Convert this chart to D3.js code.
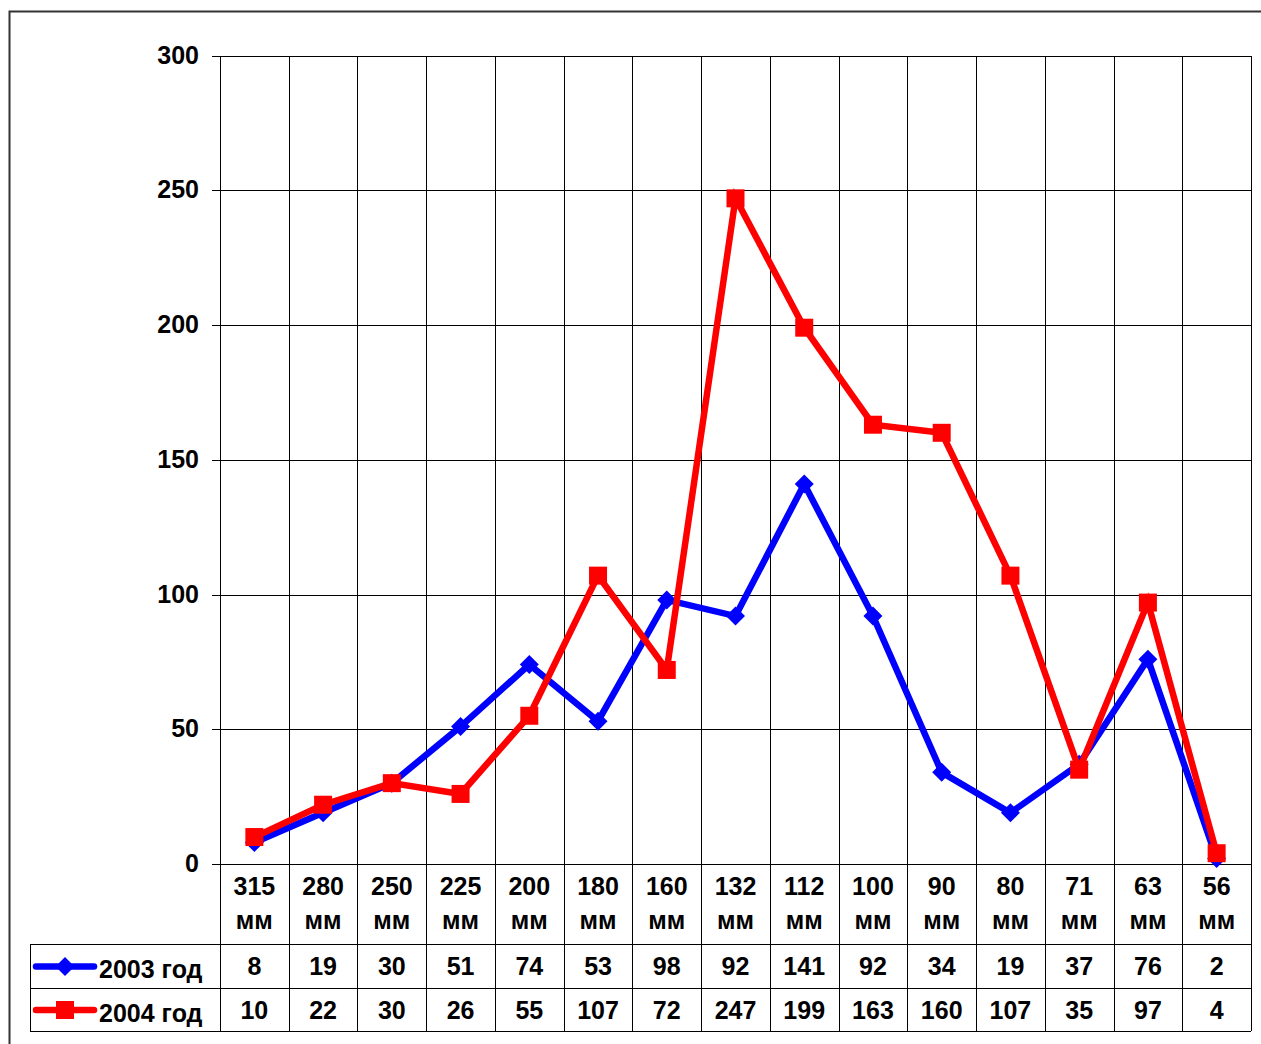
<!DOCTYPE html>
<html>
<head>
<meta charset="utf-8">
<script src="https://cdn.jsdelivr.net/npm/d3@7"></script>
<style>
  body { margin: 0; background: #fff; }
  text { font-family: "Liberation Sans", Arial, sans-serif; font-weight: bold; fill: #000; }
</style>
</head>
<body>
<div class="chart"></div>
<script>
const categories = ["315", "280", "250", "225", "200", "180", "160", "132", "112", "100", "90", "80", "71", "63", "56"];
const unit = "мм";
const series2003 = [8, 19, 30, 51, 74, 53, 98, 92, 141, 92, 34, 19, 37, 76, 2];
const series2004 = [10, 22, 30, 26, 55, 107, 72, 247, 199, 163, 160, 107, 35, 97, 4];
const seriesNames = ["2003 год", "2004 год"];
const yTicks = [0, 50, 100, 150, 200, 250, 300];

function renderChart() {
    const W = 1261, H = 1044;
    const left = 220, right = 1251, top = 55.5, bottom = 864;
    const row1 = 944, row2 = 988, row3 = 1031, tableLeft = 30;
    const fontSize = "25px";

    const svg = d3.select(".chart").append("svg")
        .attr("width", W)
        .attr("height", H);

    // outer frame
    svg.append("rect")
        .attr("x", 9.5).attr("y", 11.5)
        .attr("width", 1300).attr("height", 1100)
        .attr("fill", "none")
        .attr("stroke", "#333")
        .attr("stroke-width", 2);

    const xScale = d3.scaleBand()
        .domain(categories)
        .range([left, right]);

    const yScale = d3.scaleLinear()
        .domain([0, 300])
        .range([bottom, top]);

    const grid = svg.append("g")
        .attr("stroke", "#000")
        .attr("stroke-width", 1)
        .attr("shape-rendering", "crispEdges");

    // horizontal grid lines + ticks
    grid.selectAll(".hgrid")
        .data(yTicks)
        .enter()
        .append("line")
        .attr("x1", left - 8)
        .attr("x2", right)
        .attr("y1", d => Math.round(yScale(d)) + 0.5)
        .attr("y2", d => Math.round(yScale(d)) + 0.5);

    // vertical lines through plot and table
    const edges = categories.map(c => xScale(c)).concat([right]);
    grid.selectAll(".vgrid")
        .data(edges)
        .enter()
        .append("line")
        .attr("x1", d => Math.round(d) + 0.5).attr("x2", d => Math.round(d) + 0.5)
        .attr("y1", top)
        .attr("y2", row3);

    // table rows
    [row1, row2, row3].forEach(y => {
        grid.append("line")
            .attr("x1", tableLeft).attr("x2", right)
            .attr("y1", y + 0.5).attr("y2", y + 0.5);
    });
    grid.append("line")
        .attr("x1", tableLeft + 0.5).attr("x2", tableLeft + 0.5)
        .attr("y1", row1).attr("y2", row3);

    // y labels
    svg.append("g").selectAll("text")
        .data(yTicks)
        .enter()
        .append("text")
        .attr("x", 199)
        .attr("y", d => yScale(d) + 8)
        .attr("text-anchor", "end")
        .style("font-size", fontSize)
        .text(d => d);

    // category labels
    const catG = svg.append("g").selectAll("g")
        .data(categories)
        .enter()
        .append("g")
        .attr("transform", d => `translate(${xScale(d) + xScale.bandwidth() / 2},0)`);
    catG.append("text")
        .attr("y", 895)
        .attr("text-anchor", "middle")
        .style("font-size", fontSize)
        .text(d => d);
    catG.append("text")
        .attr("y", 929)
        .attr("text-anchor", "middle")
        .style("font-size", fontSize)
        .text(unit);

    const x = (d, i) => xScale(categories[i]) + xScale.bandwidth() / 2;
    const line = d3.line()
        .x(x)
        .y(d => yScale(d));

    const colors = ["#0000ff", "#ff0000"];
    const allSeries = [series2003, series2004];
    const diamond = "M0,-9.5L9.5,0L0,9.5L-9.5,0Z";
    const square = "M-9,-9H9V9H-9Z";
    const markers = [diamond, square];

    allSeries.forEach((s, k) => {
        svg.append("path")
            .datum(s)
            .attr("fill", "none")
            .attr("stroke", colors[k])
            .attr("stroke-width", 6.5)
            .attr("stroke-linejoin", "miter")
            .attr("d", line);
        svg.append("g").selectAll("path")
            .data(s)
            .enter()
            .append("path")
            .attr("d", markers[k])
            .attr("fill", colors[k])
            .attr("transform", (d, i) => `translate(${x(d, i)},${yScale(d)})`);
    });

    // data table rows
    const rowY = [975, 1019];
    const legendY = [966.5, 1010];
    allSeries.forEach((s, k) => {
        svg.append("g").selectAll("text")
            .data(s)
            .enter()
            .append("text")
            .attr("x", x)
            .attr("y", rowY[k])
            .attr("text-anchor", "middle")
            .style("font-size", fontSize)
            .text(d => d);

        // legend key
        svg.append("line")
            .attr("x1", 36).attr("x2", 94)
            .attr("y1", legendY[k]).attr("y2", legendY[k])
            .attr("stroke", colors[k])
            .attr("stroke-width", 6.5)
            .attr("stroke-linecap", "round");
        svg.append("path")
            .attr("d", markers[k])
            .attr("fill", colors[k])
            .attr("transform", `translate(65,${legendY[k]})`);
        svg.append("text")
            .attr("x", 99)
            .attr("y", rowY[k] + 3)
            .style("font-size", fontSize)
            .text(seriesNames[k]);
    });
}

renderChart();
</script>
</body>
</html>
